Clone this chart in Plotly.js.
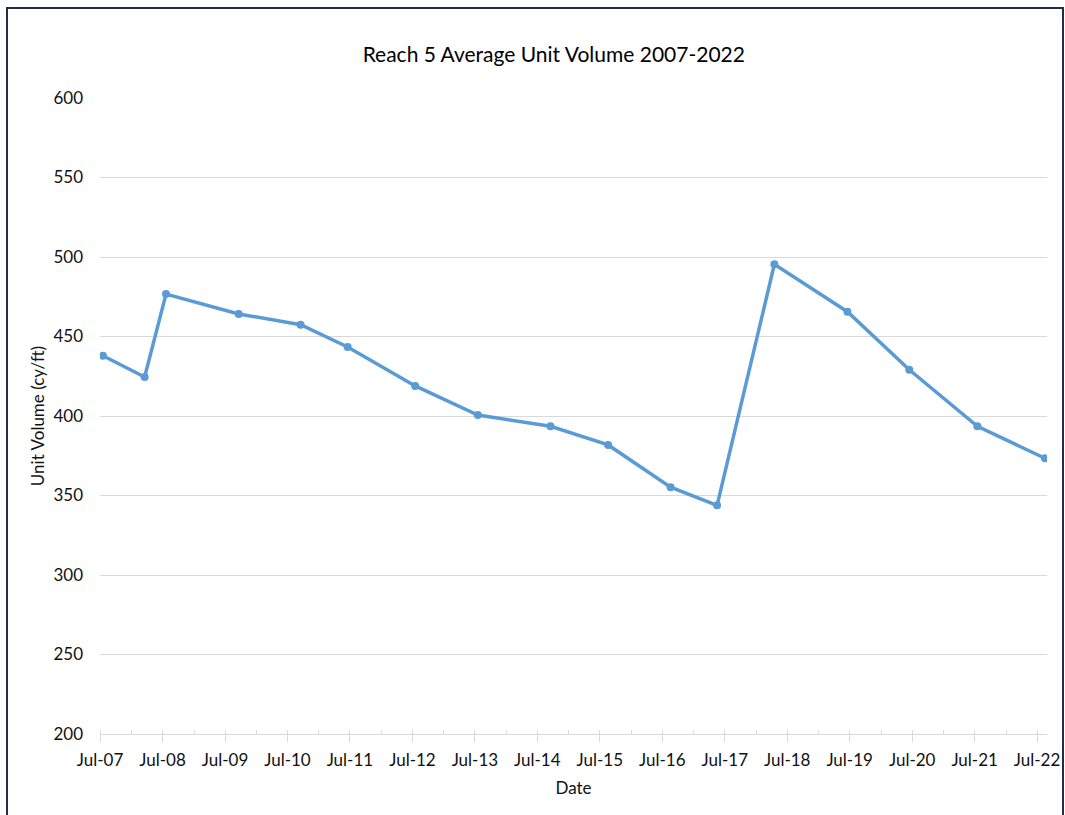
<!DOCTYPE html>
<html>
<head>
<meta charset="utf-8">
<script src="https://cdn.plot.ly/plotly-3.0.1.min.js"></script>
<style>
  html, body { margin: 0; padding: 0; background: #ffffff; }
  #chart { width: 1065px; height: 815px; position: absolute; left: 0; top: 0; }
  #frame { position: absolute; left: 6px; top: 7px; width: 1054px; height: 830px;
           border: 2px solid #1f2d4a; border-bottom: none; pointer-events: none; }
</style>
</head>
<body>
<div id="chart"></div>
<div id="frame"></div>
<script>
// Survey dates and reach-average unit volume (cy/ft)
const surveyDates = [
  "2007-07-18", "2008-03-18", "2008-07-21", "2009-09-19", "2010-09-16",
  "2011-06-18", "2012-07-17", "2013-07-18", "2014-09-16", "2015-08-19",
  "2016-08-18", "2017-05-17", "2018-04-17", "2019-06-18", "2020-06-14",
  "2021-07-17", "2022-08-16"
];
const unitVolume = [
  437.9, 424.5, 476.7, 464.2, 457.4,
  443.4, 418.9, 400.6, 393.5, 381.8,
  355.2, 343.8, 495.4, 465.6, 429.1,
  393.5, 373.4
];

const chartTitle = "Reach 5 Average Unit Volume 2007-2022";
const xTitle = "Date";
const yTitle = "Unit Volume (cy/ft)";

const FONT = "Lato, 'Open Sans', sans-serif";

const trace = {
  type: "scatter",
  mode: "lines+markers",
  x: surveyDates,
  y: unitVolume,
  line: { color: "#5b9bd5", width: 3.5 },
  marker: { color: "#5b9bd5", size: 8 },
  showlegend: false,
  hoverinfo: "x+y"
};

const layout = {
  width: 1065,
  height: 815,
  paper_bgcolor: "rgba(0,0,0,0)",
  plot_bgcolor: "#ffffff",
  margin: { l: 100, r: 18, t: 98, b: 81 },
  font: { family: FONT, size: 17, color: "#111111" },
  title: {
    text: chartTitle,
    font: { family: FONT, size: 21, color: "#000000" },
    x: 0.52, xanchor: "center",
    y: 1 - 55 / 815, yanchor: "middle"
  },
  xaxis: {
    type: "date",
    range: ["2007-07-01", "2022-08-28"],
    tick0: "2007-07-01",
    dtick: "M12",
    tickformat: "%b-%y",
    showgrid: false,
    zeroline: false,
    showline: true,
    linecolor: "#d9d9d9",
    linewidth: 1,
    ticks: "outside",
    ticklen: 7,
    tickcolor: "#d9d9d9",
    tickwidth: 1,
    ticklabelstandoff: 4,
    minor: { dtick: "M6", tick0: "2007-07-01", ticks: "inside", ticklen: 4, tickcolor: "#d9d9d9", tickwidth: 1, showgrid: false },
    tickfont: { family: FONT, size: 17, color: "#111111" },
    title: { text: xTitle, font: { family: FONT, size: 17, color: "#111111" }, standoff: 12 },
    fixedrange: true
  },
  yaxis: {
    range: [200, 600],
    dtick: 50,
    tick0: 200,
    showgrid: true,
    gridcolor: "#d9d9d9",
    gridwidth: 1,
    zeroline: false,
    showline: false,
    ticks: "",
    ticklabelstandoff: 16,
    tickfont: { family: FONT, size: 17, color: "#111111" },
    title: { text: yTitle, font: { family: FONT, size: 17, color: "#111111" }, standoff: 4 },
    fixedrange: true
  }
};

Plotly.newPlot("chart", [trace], layout, { displayModeBar: false });
</script>
</body>
</html>
